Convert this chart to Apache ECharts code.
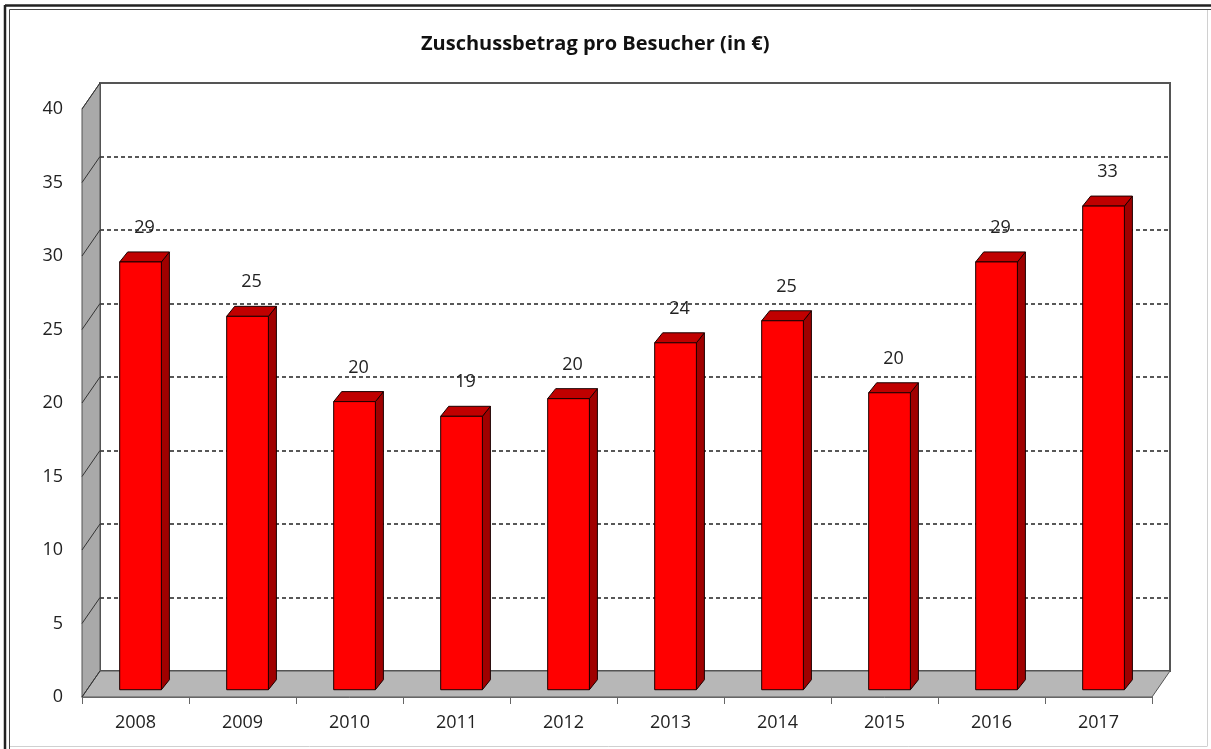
<!DOCTYPE html>
<html>
<head>
<meta charset="utf-8">
<title>Zuschussbetrag pro Besucher</title>
<script src="https://cdn.jsdelivr.net/npm/echarts@6/dist/echarts.min.js"></script>
<style>
  html, body { margin: 0; padding: 0; background: #fff; }
  #chart { width: 1211px; height: 749px; }
</style>
</head>
<body>
<div id="chart"></div>
<script>
var years = ['2008', '2009', '2010', '2011', '2012', '2013', '2014', '2015', '2016', '2017'];
var values = [29.1, 25.4, 19.6, 18.6, 19.8, 23.6, 25.1, 20.2, 29.1, 32.9];
var yTicks = [0, 5, 10, 15, 20, 25, 30, 35, 40];

(function() {
  var font = '"Open Sans", sans-serif';
  var ink = '#222';
  // depth of the 3d box (back wall offset from the front plane)
  var DX = 18, DY = -26;
  var BAR_DX = 8, BAR_DY = -10;

  var chart = echarts.init(document.getElementById('chart'), null, { renderer: 'canvas' });

  var barData = values.map(function(v, i) { return [i, v]; });
  var tickData = yTicks.map(function(v) { return [0, v]; });

  chart.setOption({
    animation: false,
    backgroundColor: '#fff',
    title: {
      text: 'Zuschussbetrag pro Besucher (in €)',
      left: 416,
      top: 29,
      textStyle: { color: '#111', fontSize: 20, fontWeight: 'bold', fontFamily: font }
    },
    graphic: [
      { type: 'line', shape: { x1: 5, y1: 5, x2: 5, y2: 749 }, style: { stroke: '#222', lineWidth: 2.5 } },
      { type: 'line', shape: { x1: 5, y1: 5.5, x2: 1211, y2: 5.5 }, style: { stroke: '#222', lineWidth: 2.5 } },
      { type: 'line', shape: { x1: 9.5, y1: 9.5, x2: 9.5, y2: 749 }, style: { stroke: '#444', lineWidth: 1 } },
      { type: 'line', shape: { x1: 9.5, y1: 9.5, x2: 1211, y2: 9.5 }, style: { stroke: '#444', lineWidth: 1 } },
      { type: 'line', shape: { x1: 1207.5, y1: 10, x2: 1207.5, y2: 746 }, style: { stroke: '#d0d0d0', lineWidth: 1 } },
      { type: 'line', shape: { x1: 10, y1: 746.5, x2: 1207.5, y2: 746.5 }, style: { stroke: '#d0d0d0', lineWidth: 1 } }
    ],
    grid: [
      { left: 82, top: 109, width: 1070, height: 588 },
      {
        left: 82 + DX, top: 109 + DY, width: 1070, height: 588,
        show: true, backgroundColor: '#fff', borderColor: '#555', borderWidth: 2
      }
    ],
    xAxis: [
      {
        type: 'category',
        gridIndex: 0,
        data: years,
        axisLine: { show: true, lineStyle: { color: '#666', width: 1 } },
        axisTick: { show: true, length: 7, lineStyle: { color: '#666' } },
        axisLabel: { color: ink, fontSize: 18, fontFamily: font, margin: 17 },
        z: 5
      },
      {
        type: 'category',
        gridIndex: 1,
        data: years,
        show: false
      }
    ],
    yAxis: [
      {
        type: 'value',
        gridIndex: 0,
        min: 0,
        max: 40,
        interval: 5,
        axisLine: { show: false },
        axisTick: { show: false },
        splitLine: { show: false },
        axisLabel: { color: ink, fontSize: 18, fontFamily: font, margin: 19 }
      },
      {
        type: 'value',
        gridIndex: 1,
        min: 0,
        max: 40,
        interval: 5,
        axisLine: { show: false },
        axisTick: { show: false },
        axisLabel: { show: false },
        splitLine: {
          show: true,
          showMinLine: false,
          showMaxLine: false,
          lineStyle: { color: '#222', type: [4, 3], width: 1.5 }
        }
      }
    ],
    series: [
      {
        // floor and left wall
        name: 'walls',
        type: 'custom',
        xAxisIndex: 0,
        yAxisIndex: 0,
        z: 1,
        silent: true,
        renderItem: function(params, api) {
          var cs = params.coordSys;
          var v = api.value(1);
          var p = api.coord([0, v]);
          var children = [];
          if (params.dataIndex === 0) {
            var x0 = cs.x, x1 = cs.x + cs.width, yb = cs.y + cs.height, yt = cs.y;
            children.push({
              type: 'polygon',
              shape: { points: [[x0, yb], [x0, yt], [x0 + DX, yt + DY], [x0 + DX, yb + DY]] },
              style: { fill: '#a9a9a9', stroke: '#555', lineWidth: 1 }
            });
            children.push({
              type: 'polygon',
              shape: { points: [[x0, yb], [x1, yb], [x1 + DX, yb + DY], [x0 + DX, yb + DY]] },
              style: { fill: '#b7b7b7', stroke: '#555', lineWidth: 1 }
            });
          }
          children.push({
            type: 'line',
            shape: { x1: cs.x, y1: p[1], x2: cs.x + DX, y2: p[1] + DY },
            style: { stroke: '#333', lineWidth: 1 }
          });
          return { type: 'group', children: children };
        },
        encode: { x: 0, y: 1 },
        data: tickData
      },
      {
        name: 'Zuschussbetrag',
        type: 'custom',
        xAxisIndex: 0,
        yAxisIndex: 0,
        z: 3,
        renderItem: function(params, api) {
          var v = api.value(1);
          var top = api.coord([api.value(0), v]);
          var base = api.coord([api.value(0), 0]);
          var bw = api.size([1, 0])[0] * 0.39;
          var cx = top[0] + DX * 0.28;
          var x0 = cx - bw / 2, x1 = cx + bw / 2;
          var yT = top[1] + DY * 0.28;
          var yB = base[1] + DY * 0.28;
          var edge = { stroke: '#1a0000', lineWidth: 1 };
          return {
            type: 'group',
            children: [
              {
                type: 'polygon',
                shape: { points: [[x1, yT], [x1 + BAR_DX, yT + BAR_DY], [x1 + BAR_DX, yB + BAR_DY], [x1, yB]] },
                style: Object.assign({ fill: '#a00000' }, edge)
              },
              {
                type: 'polygon',
                shape: { points: [[x0, yT], [x1, yT], [x1 + BAR_DX, yT + BAR_DY], [x0 + BAR_DX, yT + BAR_DY]] },
                style: Object.assign({ fill: '#c00000' }, edge)
              },
              {
                type: 'rect',
                shape: { x: x0, y: yT, width: bw, height: yB - yT },
                style: Object.assign({ fill: '#ff0000' }, edge)
              },
              {
                type: 'text',
                x: cx + 4,
                y: yT - 34,
                style: {
                  text: String(Math.round(v)),
                  fill: ink,
                  font: '18px ' + font,
                  align: 'center',
                  verticalAlign: 'middle'
                }
              }
            ]
          };
        },
        encode: { x: 0, y: 1 },
        data: barData
      }
    ]
  });
  window.addEventListener('resize', function() { chart.resize(); });
})();
</script>
</body>
</html>
